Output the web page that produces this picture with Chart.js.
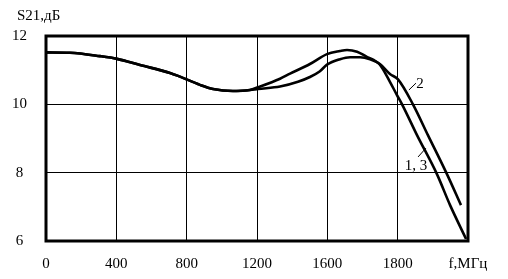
<!DOCTYPE html>
<html>
<head>
<meta charset="utf-8">
<script src="https://cdn.jsdelivr.net/npm/chart.js@4/dist/chart.umd.min.js"></script>
<style>
  body { margin: 0; background: #fff; }
</style>
</head>
<body>
<canvas id="myChart" width="508" height="279"></canvas>
<script>
// tick labels as printed on the original (note the 2000 position reads 1800)
const xLabels = ['0', '400', '800', '1200', '1600', '1800', 'f,МГц']
const yTicks = [6, 8, 10, 12]

// curve 1, 3
const freq13 = [0, 136, 307, 404, 535, 705, 762, 876, 950, 1063, 1160, 1206, 1331, 1388, 1501, 1598, 1672, 1712, 1769, 1825, 1860, 1899, 1956, 1996, 2025, 2110, 2224, 2298, 2389]
const s13 = [11.52, 11.51, 11.41, 11.33, 11.15, 10.92, 10.81, 10.57, 10.45, 10.39, 10.42, 10.50, 10.75, 10.90, 11.18, 11.47, 11.56, 11.59, 11.54, 11.39, 11.31, 11.16, 10.66, 10.27, 10.0, 9.10, 7.95, 7.05, 6.06]

// curve 2
const freq2 = [0, 136, 307, 404, 535, 705, 762, 876, 950, 1063, 1160, 1206, 1331, 1433, 1501, 1556, 1598, 1672, 1729, 1786, 1843, 1899, 1956, 2002, 2087, 2172, 2281, 2360]
const s2 = [11.52, 11.51, 11.41, 11.33, 11.15, 10.92, 10.81, 10.57, 10.45, 10.39, 10.42, 10.45, 10.52, 10.66, 10.80, 10.96, 11.16, 11.32, 11.38, 11.38, 11.32, 11.18, 10.89, 10.73, 10.0, 9.10, 7.95, 7.05]

const font = { family: '"Liberation Serif", "Times New Roman", serif', size: 15 }

function toPoints(xs, ys) {
    return xs.map((x, i) => ({ x: x, y: ys[i] }))
}

// frame, axis caption and curve labels
const extras = {
    id: 'extras',
    afterDraw(chart) {
        const ctx = chart.ctx
        const a = chart.chartArea
        const xs = chart.scales.x
        const ys = chart.scales.y
        ctx.save()
        ctx.strokeStyle = '#000'
        ctx.lineWidth = 3
        ctx.strokeRect(a.left, a.top, a.right - a.left, a.bottom - a.top)

        ctx.fillStyle = '#000'
        ctx.font = font.size + 'px ' + font.family
        ctx.textBaseline = 'middle'
        ctx.textAlign = 'left'
        ctx.fillText('S21,дБ', 17, 16)

        const notes = [
            { text: '2', at: [2127, 10.6], from: [2064, 10.42], to: [2104, 10.62] },
            { text: '1, 3', at: [2104, 8.2], from: [2116, 8.46], to: [2161, 8.72] }
        ]
        ctx.lineWidth = 1
        ctx.textAlign = 'center'
        notes.forEach(n => {
            ctx.beginPath()
            ctx.moveTo(xs.getPixelForValue(n.from[0]), ys.getPixelForValue(n.from[1]))
            ctx.lineTo(xs.getPixelForValue(n.to[0]), ys.getPixelForValue(n.to[1]))
            ctx.stroke()
            ctx.fillText(n.text, xs.getPixelForValue(n.at[0]), ys.getPixelForValue(n.at[1]))
        })
        ctx.restore()
    }
}

const lineStyle = {
    borderColor: '#000',
    borderWidth: 2.6,
    pointRadius: 0,
    fill: false,
    cubicInterpolationMode: 'monotone'
}

new Chart(document.getElementById('myChart'), {
    type: 'line',
    data: {
        datasets: [
            Object.assign({ label: '1, 3', data: toPoints(freq13, s13) }, lineStyle),
            Object.assign({ label: '2', data: toPoints(freq2, s2) }, lineStyle)
        ]
    },
    options: {
        responsive: false,
        animation: false,
        devicePixelRatio: 1,
        layout: { padding: { left: 0, top: 36, right: 40, bottom: 0 } },
        plugins: {
            legend: { display: false },
            tooltip: { enabled: false }
        },
        scales: {
            x: {
                type: 'linear',
                min: 0,
                max: 2400,
                afterFit: s => { s.height = 38 },
                ticks: {
                    stepSize: 400,
                    color: '#000',
                    font: font,
                    padding: 14,
                    maxRotation: 0,
                    autoSkip: false,
                    callback: (v, i) => xLabels[i]
                },
                grid: { color: '#000', lineWidth: 1, drawTicks: false },
                border: { display: false }
            },
            y: {
                min: 6,
                max: 12,
                afterFit: s => { s.width = 46 },
                afterBuildTicks: s => { s.ticks = yTicks.map(v => ({ value: v })) },
                ticks: {
                    color: '#000',
                    font: font,
                    padding: 19,
                    crossAlign: 'center'
                },
                grid: { color: '#000', lineWidth: 1, drawTicks: false },
                border: { display: false }
            }
        }
    },
    plugins: [extras]
})
</script>
</body>
</html>
